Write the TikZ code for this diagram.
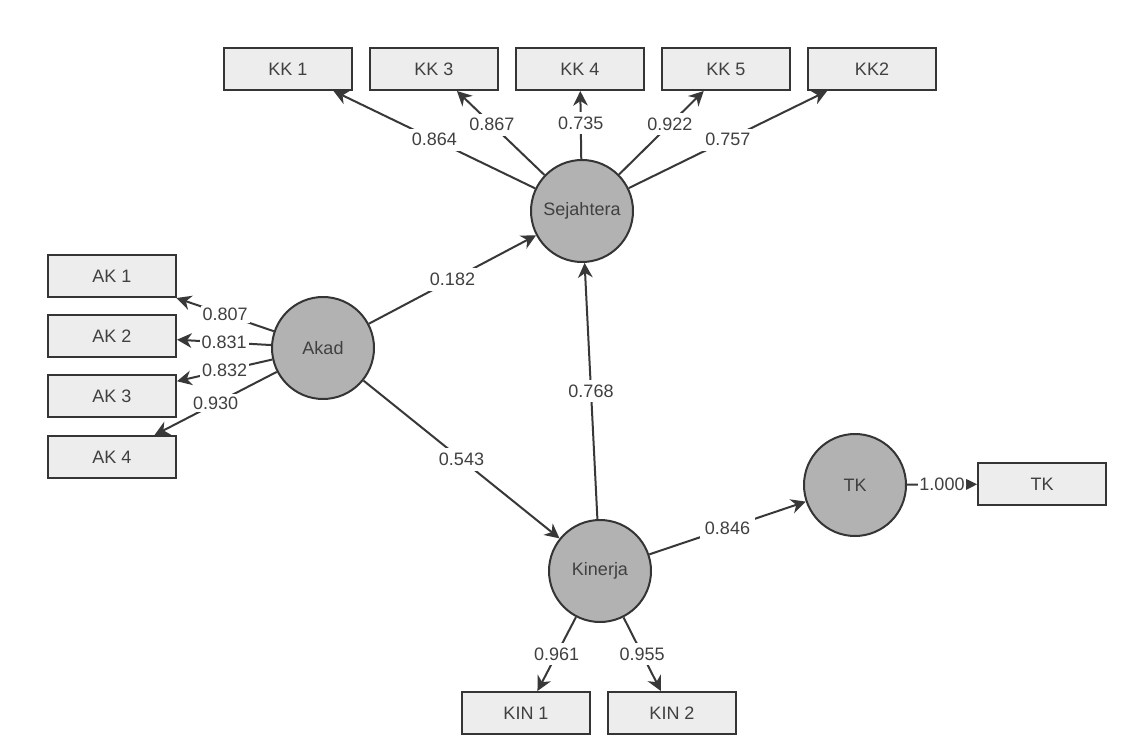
\documentclass[tikz,border=0pt]{standalone}
\usepackage{fontspec}
\setmainfont{Liberation Sans}
\usetikzlibrary{arrows.meta}
\definecolor{dark}{HTML}{353535}
\definecolor{linecol}{HTML}{383838}
\definecolor{circgray}{HTML}{B2B2B2}
\definecolor{boxgray}{HTML}{EDEDED}
\definecolor{textcol}{HTML}{404040}
\tikzset{
  lv/.style={circle, draw=dark, line width=1.5pt, fill=circgray, minimum size=76.5pt, inner sep=0pt, text=textcol, font=\fontsize{13.5}{16}\selectfont},
  mv/.style={rectangle, draw=dark, line width=1.5pt, fill=boxgray, minimum width=96pt, minimum height=31.5pt, inner sep=0pt, text=textcol, font=\fontsize{13.5}{16}\selectfont},
  conn/.style={draw=linecol, line width=1.5pt, -{Stealth[length=11pt,width=11pt,inset=3.5pt]}},
  lbl/.style={fill=white, inner sep=3.5pt, text=textcol, font=\fontsize{13.5}{16}\selectfont}
}
\begin{document}
\begin{tikzpicture}[x=0.75pt,y=-0.75pt]
\useasboundingbox[fill=white] (0,0) rectangle (1129,752);
% latent variables
\node[lv] (sej) at (582,211) {Sejahtera};
\node[lv] (akad) at (323,348) {Akad};
\node[lv] (kin) at (600,571) {Kinerja};
\node[lv] (tk) at (855,485) {TK};
% indicators
\node[mv] (kk1) at (288,69) {KK 1};
\node[mv] (kk3) at (434,69) {KK 3};
\node[mv] (kk4) at (580,69) {KK 4};
\node[mv] (kk5) at (726,69) {KK 5};
\node[mv] (kk2) at (872,69) {KK2};
\node[mv] (ak1) at (112,276) {AK 1};
\node[mv] (ak2) at (112,336) {AK 2};
\node[mv] (ak3) at (112,396) {AK 3};
\node[mv] (ak4) at (112,457) {AK 4};
\node[mv] (tkb) at (1042,484) {TK};
\node[mv] (kin1) at (526,713) {KIN 1};
\node[mv] (kin2) at (672,713) {KIN 2};
% outer loadings
\draw[conn] (sej) -- node[lbl] {0.864} (kk1);
\draw[conn] (sej) -- node[lbl, pos=0.6] {0.867} (kk3);
\draw[conn] (sej) -- node[lbl, pos=0.53] {0.735} (kk4);
\draw[conn] (sej) -- node[lbl, pos=0.6] {0.922} (kk5);
\draw[conn] (sej) -- node[lbl] {0.757} (kk2);
\draw[conn] (akad) -- node[lbl, inner sep=1.5pt] {0.807} (ak1);
\draw[conn] (akad) -- node[lbl, inner sep=1.5pt] {0.831} (ak2);
\draw[conn] (akad) -- node[lbl, inner sep=1.5pt] {0.832} (ak3);
\draw[conn] (akad) -- node[lbl, inner sep=2pt] {0.930} (ak4);
\draw[conn] (kin) -- node[lbl] {0.961} (kin1);
\draw[conn] (kin) -- node[lbl] {0.955} (kin2);
\draw[conn] (tk) -- node[lbl, inner sep=1pt] {1.000} (tkb);
% inner paths
\draw[conn] (akad) -- node[lbl] {0.182} (sej);
\draw[conn] (akad) -- node[lbl] {0.543} (kin);
\draw[conn] (kin) -- node[lbl] {0.768} (sej);
\draw[conn] (kin) -- node[lbl] {0.846} (tk);
\end{tikzpicture}
\end{document}
